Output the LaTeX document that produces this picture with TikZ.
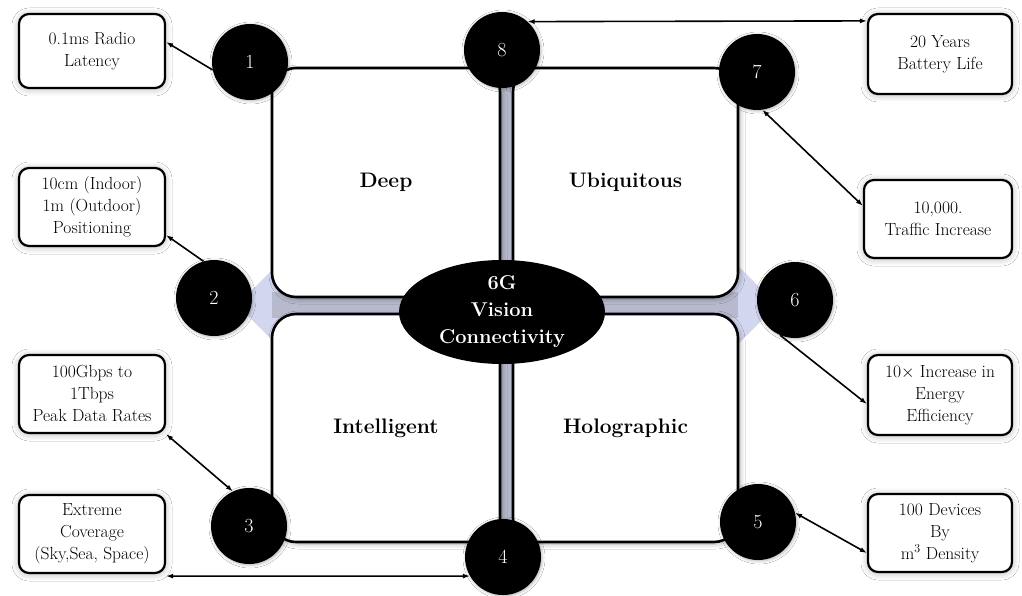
\documentclass[tikz,border=0pt]{standalone}
\usepackage{tikz}
\usetikzlibrary{shapes.geometric, arrows.meta, shadows.blur, calc}
\definecolor{bandgray}{RGB}{182, 186, 204}
\definecolor{lavender1}{RGB}{210, 214, 238}

\tikzset{
  quad/.style={draw, line width=2.6pt, fill=white, rounded corners=24pt,
    font=\fontsize{21}{25}\selectfont\bfseries,
    blur shadow={shadow xshift=2pt, shadow yshift=-2pt, shadow blur radius=5pt,
      shadow blur steps=12, shadow opacity=30}},
  badge/.style={circle, fill=black, text=white, minimum size=76pt, inner sep=0pt,
    font=\fontsize{20}{24}\selectfont,
    blur shadow={shadow xshift=1pt, shadow yshift=-1pt, shadow blur radius=3pt, shadow opacity=30}},
  infobox/.style={draw, line width=2.2pt, fill=white, rounded corners=10pt, align=center,
    inner sep=2pt, minimum width=146pt, minimum height=78pt,
    font=\fontsize{17.5}{22}\selectfont,
    blur shadow={shadow xshift=0pt, shadow yshift=-1pt, shadow blur radius=7pt,
      shadow blur steps=14, shadow opacity=28}},
  link/.style={line width=1.6pt, {Latex[length=7pt,width=5pt]}-{Latex[length=7pt,width=5pt]}},
  onelink/.style={line width=1.6pt, -{Latex[length=7pt,width=5pt]}}
}

\begin{document}
\begin{tikzpicture}[x=1pt, y=-1pt]
  \fill[white] (0,0) rectangle (1022,596);
  \useasboundingbox (0,0) rectangle (1022,596);

  % Diamond and channel behind the quadrants
  \fill[lavender1] (237,305) -- (507,35) -- (777,305) -- (507,575) -- cycle;
  \fill[bandgray] (496,68) rectangle (518,542);
  \fill[bandgray] (272,292) rectangle (738,318);

  % Quadrants
  \node[quad, minimum width=228pt, minimum height=229pt] (deep) at (386,182.5) {Deep};
  \node[quad, minimum width=225pt, minimum height=229pt] (ubiq) at (625.5,182.5) {Ubiquitous};
  \node[quad, minimum width=228pt, minimum height=228pt] (intel) at (386,428) {Intelligent};
  \node[quad, minimum width=225pt, minimum height=228pt] (holo) at (625.5,428) {Holographic};

  % Centre
  \node[ellipse, fill=black, text=white, minimum width=206pt, minimum height=104pt, inner sep=0pt,
    align=center, font=\fontsize{20}{27}\selectfont\bfseries] (vision) at (502,312)
    {6G\\Vision\\Connectivity};

  % Numbered badges
  \node[badge] (c1) at (250,62) {1};
  \node[badge] (c2) at (214,298) {2};
  \node[badge] (c3) at (249,526) {3};
  \node[badge] (c4) at (503,557) {4};
  \node[badge] (c5) at (758,522) {5};
  \node[badge] (c6) at (795,300) {6};
  \node[badge] (c7) at (757,72) {7};
  \node[badge] (c8) at (502,50) {8};

  % Left boxes
  \node[infobox, minimum height=74pt] (b1) at (92,51) {0.1ms Radio\\Latency};
  \node[infobox] (b2) at (92,207) {10cm (Indoor)\\1m (Outdoor)\\Positioning};
  \node[infobox] (b3) at (92,394) {100Gbps to\\1Tbps\\Peak Data Rates};
  \node[infobox] (b4) at (92,534) {Extreme\\Coverage\\(Sky,Sea, Space)};

  % Right boxes
  \node[infobox, minimum width=144pt, minimum height=80pt] (b8) at (940,54) {20 Years\\Battery Life};
  \node[infobox, minimum width=148pt] (b7) at (938,219) {10,000.\\Traffic Increase};
  \node[infobox, minimum width=144pt, minimum height=80pt] (b6) at (940,395) {10$\times$ Increase in\\Energy\\Efficiency};
  \node[infobox, minimum width=144pt] (b5) at (940,533) {100 Devices\\By\\m$^3$ Density};

  % Connectors
  \draw[onelink] (c1.192) -- ([yshift=9pt]b1.east);
  \draw[onelink] (c2.106) -- ([yshift=12pt]b2.south east);
  \draw[link] (b3.south east) -- (c3.115);
  \draw[link] ([yshift=-2pt]b4.south east) -- (c4.210);
  \draw[link] (c8.48) -- ([yshift=-8pt]b8.north west);
  \draw[link] (c7.278) -- ([yshift=-27pt]b7.north west);
  \draw[onelink] (c6.247) -- ([yshift=-9pt]b6.west);
  \draw[link] (c5.14) -- ([yshift=-20pt]b5.west);
\end{tikzpicture}
\end{document}
